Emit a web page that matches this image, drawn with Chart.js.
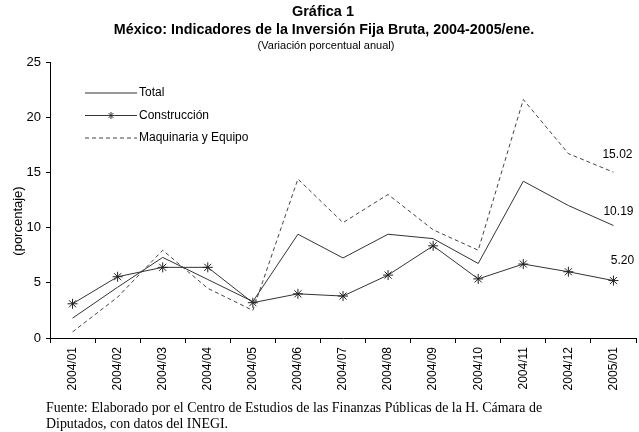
<!DOCTYPE html>
<html>
<head>
<meta charset="utf-8">
<script src="https://cdn.jsdelivr.net/npm/chart.js"></script>
<style>
  html, body { margin: 0; padding: 0; background: #fff; overflow: hidden; }
  #page { position: relative; width: 639px; height: 432px; overflow: hidden; background: #fff; }
  #chartBox { position: absolute; left: 0; top: 0; width: 642px; height: 432px; }
  .txt { position: absolute; white-space: nowrap; color: #000; font-weight: normal; }
  .sans { font-family: "Liberation Sans", Arial, sans-serif; }
  .serif { font-family: "Liberation Serif", "Times New Roman", serif; }
</style>
</head>
<body>
<div id="page">
  <div id="chartBox"><canvas id="myChart"></canvas></div>
  <div class="txt sans" style="left:0;width:646px;text-align:center;top:3px;font-size:14.5px;font-weight:bold;">Gráfica 1</div>
  <div class="txt sans" style="left:0;width:648px;text-align:center;top:21px;font-size:14.3px;font-weight:bold;">México: Indicadores de la Inversión Fija Bruta, 2004-2005/ene.</div>
  <div class="txt sans" style="left:0;width:652px;text-align:center;top:39px;font-size:11px;">(Variación porcentual anual)</div>
  <div class="txt serif" style="left:46px;top:400px;font-size:13.9px;">Fuente: Elaborado por el Centro de Estudios de las Finanzas Públicas de la H. Cámara de</div>
  <div class="txt serif" style="left:46px;top:416px;font-size:13.9px;">Diputados, con datos del INEGI.</div>
</div>

<script>
const months = ['2004/01', '2004/02', '2004/03', '2004/04', '2004/05', '2004/06', '2004/07',
  '2004/08', '2004/09', '2004/10', '2004/11', '2004/12', '2005/01'];

const total = [1.8, 4.6, 7.3, 5.3, 3.3, 9.4, 7.25, 9.4, 9.0, 6.75, 14.2, 12.0, 10.19];
const construccion = [3.1, 5.55, 6.4, 6.4, 3.2, 4.0, 3.8, 5.7, 8.35, 5.35, 6.7, 6.0, 5.20];
const maquinaria = [0.55, 3.7, 7.95, 4.5, 2.5, 14.4, 10.45, 13.0, 9.8, 7.95, 21.6, 16.7, 15.02];

const yTicks = [0, 5, 10, 15, 20, 25];
const yTitle = '(porcentaje)';

// end-of-line value labels: offset from the last point
const endLabelOffset = { 'Total': [5, -14], 'Construcción': [9, -20], 'Maquinaria y Equipo': [4, -17] };

const legendPlugin = {
  id: 'lineLegend',
  afterDraw(chart) {
    const ctx = chart.ctx;
    const x0 = 85, x1 = 137, y0 = 93, step = 22.5;
    ctx.save();
    chart.data.datasets.forEach((ds, i) => {
      const y = y0 + i * step;
      ctx.strokeStyle = ds.borderColor;
      ctx.lineWidth = 1;
      ctx.setLineDash(ds.borderDash || []);
      ctx.beginPath();
      ctx.moveTo(x0, y);
      ctx.lineTo(x1, y);
      ctx.stroke();
      ctx.setLineDash([]);
      if (ds.pointRadius > 0) {
        Chart.helpers.drawPoint(ctx, { pointStyle: ds.pointStyle, radius: 3.5, borderWidth: 1 }, (x0 + x1) / 2, y);
      }
      ctx.fillStyle = '#000';
      ctx.font = '12px "Liberation Sans", Arial, sans-serif';
      ctx.textBaseline = 'middle';
      ctx.textAlign = 'left';
      ctx.fillText(ds.label, x1 + 2, y);
    });
    // y axis title, sits a bit below the middle of the axis
    ctx.translate(18, 221);
    ctx.rotate(-Math.PI / 2);
    ctx.textAlign = 'center';
    ctx.font = '13px "Liberation Sans", Arial, sans-serif';
    ctx.fillText(yTitle, 0, 0);
    ctx.restore();
  }
};

const endLabelPlugin = {
  id: 'endLabels',
  afterDatasetsDraw(chart) {
    const ctx = chart.ctx;
    ctx.save();
    ctx.fillStyle = '#000';
    ctx.font = '12px "Liberation Sans", Arial, sans-serif';
    ctx.textAlign = 'center';
    ctx.textBaseline = 'middle';
    chart.data.datasets.forEach((ds, i) => {
      const meta = chart.getDatasetMeta(i);
      const last = meta.data[meta.data.length - 1];
      const off = endLabelOffset[ds.label];
      ctx.fillText(ds.data[ds.data.length - 1].toFixed(2), last.x + off[0], last.y + off[1]);
    });
    ctx.restore();
  }
};

const ctx = document.getElementById('myChart').getContext('2d');

new Chart(ctx, {
  type: 'line',
  data: {
    labels: months,
    datasets: [
      {
        label: 'Total',
        data: total,
        borderColor: '#333333',
        borderWidth: 1,
        pointRadius: 0,
        tension: 0
      },
      {
        label: 'Construcción',
        data: construccion,
        borderColor: '#333333',
        borderWidth: 1,
        pointStyle: 'star',
        pointRadius: 5,
        pointBorderColor: '#222222',
        pointBorderWidth: 1,
        tension: 0
      },
      {
        label: 'Maquinaria y Equipo',
        data: maquinaria,
        borderColor: '#444444',
        borderWidth: 1,
        borderDash: [4, 3],
        pointRadius: 0,
        tension: 0
      }
    ]
  },
  options: {
    responsive: true,
    maintainAspectRatio: false,
    animation: false,
    layout: { padding: { top: 62, left: 0, right: 0, bottom: 0 } },
    plugins: {
      legend: { display: false },
      tooltip: { enabled: false },
      title: { display: false }
    },
    scales: {
      x: {
        offset: true,
        grid: { display: true, drawOnChartArea: false, offset: true, tickLength: 5, color: '#000' },
        border: { display: true, color: '#000', width: 1 },
        ticks: {
          color: '#000',
          font: { family: '"Liberation Sans", Arial, sans-serif', size: 12 },
          maxRotation: 90,
          minRotation: 90,
          autoSkip: false,
          padding: 4
        },
        afterFit(scale) { scale.height = 94; }
      },
      y: {
        min: 0,
        max: 25,
        afterBuildTicks(scale) { scale.ticks = yTicks.map(v => ({ value: v })); },
        grid: { display: true, drawOnChartArea: false, tickLength: 4, color: '#000' },
        border: { display: true, color: '#000', width: 1 },
        ticks: {
          color: '#000',
          font: { family: '"Liberation Sans", Arial, sans-serif', size: 13 },
          padding: 5
        },
        afterFit(scale) { scale.width = 50; }
      }
    }
  },
  plugins: [legendPlugin, endLabelPlugin]
});
</script>
</body>
</html>
